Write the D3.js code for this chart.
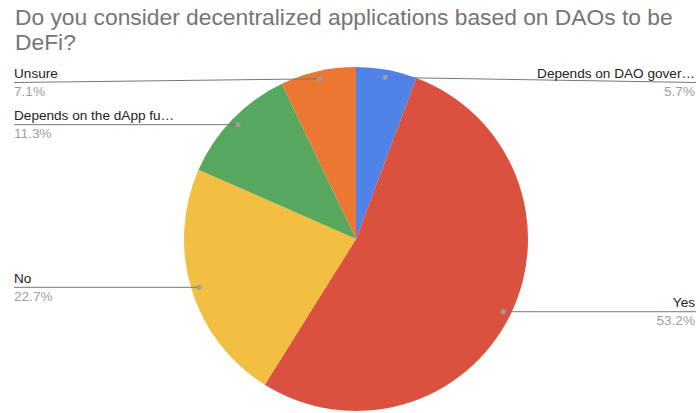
<!DOCTYPE html>
<html>
<head>
<meta charset="utf-8">
<script src="https://cdn.jsdelivr.net/npm/d3@7"></script>
<style>
  body { margin: 0; background: #fff; }
  svg { display: block; font-family: "Liberation Sans", Arial, sans-serif; }
</style>
</head>
<body>
<div class="graph"></div>
<script>
// data
const categories = ["Depends on DAO gover\u2026", "Yes", "No", "Depends on the dApp fu\u2026", "Unsure"];
const shares = [5.7, 53.2, 22.7, 11.3, 7.1];
const sliceColors = ["#5083e8", "#da5140", "#f2bf42", "#58a75e", "#ec7732"];
const titleLines = ["Do you consider decentralized applications based on DAOs to be", "DeFi?"];

function main() {
  //setting
  const width = 700;
  const height = 413;
  const cx = 356;
  const cy = 239;
  const radius = 172;
  const dotRadius = radius * 0.955;
  const leftX = 14;
  const rightX = 696;
  const minLineY = 82.5;

  const svg = d3
    .select(".graph")
    .append("svg")
    .attr("width", width)
    .attr("height", height);

  //title
  svg
    .append("text")
    .attr("x", 15)
    .attr("y", 25)
    .style("font-size", "22.8px")
    .style("fill", "#757575")
    .selectAll("tspan")
    .data(titleLines)
    .enter()
    .append("tspan")
    .attr("x", 15)
    .attr("dy", (d, i) => (i === 0 ? 0 : 25))
    .text(d => d);

  const color = d3.scaleOrdinal().domain(categories).range(sliceColors);

  const pie = d3
    .pie()
    .sort(null)
    .value((d, i) => shares[i]);
  const arcs = pie(categories);

  const arc = d3.arc().innerRadius(0).outerRadius(radius);
  const dotArc = d3.arc().innerRadius(dotRadius).outerRadius(dotRadius);

  const g = svg.append("g").attr("transform", `translate(${cx},${cy})`);

  //slices
  g.selectAll("path.slice")
    .data(arcs)
    .enter()
    .append("path")
    .attr("class", "slice")
    .attr("d", arc)
    .style("fill", d => color(d.data));

  //leader lines and labels
  const labels = arcs.map((d, i) => {
    const c = dotArc.centroid(d);
    const px = cx + c[0];
    const py = cy + c[1];
    const right = px > cx;
    return {
      name: d.data,
      pct: shares[i].toFixed(1) + "%",
      px,
      py,
      right,
      lineY: Math.max(py, minLineY)
    };
  });

  svg
    .selectAll("line.leader")
    .data(labels)
    .enter()
    .append("line")
    .attr("class", "leader")
    .attr("x1", d => d.px)
    .attr("y1", d => d.py)
    .attr("x2", d => (d.right ? rightX : leftX))
    .attr("y2", d => d.lineY)
    .style("stroke", "#777")
    .style("stroke-width", 1);

  svg
    .selectAll("circle.dot")
    .data(labels)
    .enter()
    .append("circle")
    .attr("class", "dot")
    .attr("cx", d => d.px)
    .attr("cy", d => d.py)
    .attr("r", 2.5)
    .style("fill", "#9e9e9e");

  svg
    .selectAll("text.name")
    .data(labels)
    .enter()
    .append("text")
    .attr("class", "name")
    .attr("x", d => (d.right ? rightX - 1 : leftX))
    .attr("y", d => d.lineY - 4.5)
    .attr("text-anchor", d => (d.right ? "end" : "start"))
    .style("font-size", "13.6px")
    .style("fill", "#222")
    .text(d => d.name);

  svg
    .selectAll("text.pct")
    .data(labels)
    .enter()
    .append("text")
    .attr("class", "pct")
    .attr("x", d => (d.right ? rightX - 1 : leftX))
    .attr("y", d => d.lineY + 13.5)
    .attr("text-anchor", d => (d.right ? "end" : "start"))
    .style("font-size", "13.6px")
    .style("fill", "#9e9e9e")
    .text(d => d.pct);
}

main();
</script>
</body>
</html>
